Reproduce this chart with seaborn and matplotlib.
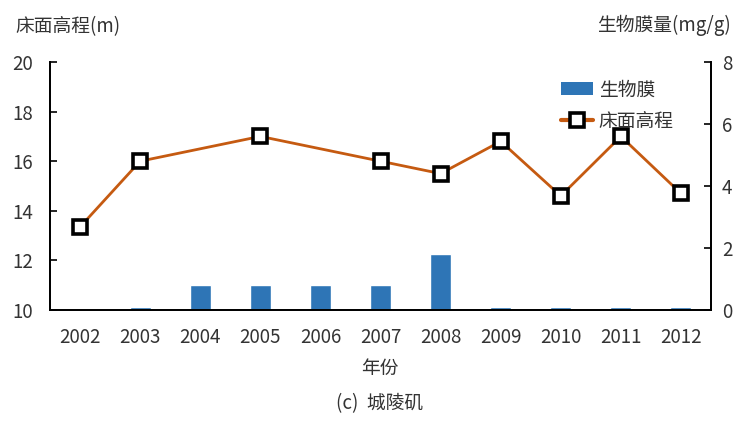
import numpy as np
import pandas as pd
import matplotlib
matplotlib.use("Agg")
import matplotlib.pyplot as plt
import seaborn as sns
from matplotlib.patches import Patch
from matplotlib.lines import Line2D

years = ["2002", "2003", "2004", "2005", "2006", "2007", "2008", "2009", "2010", "2011", "2012"]
biofilm = [0.0, 0.09, 0.82, 0.82, 0.82, 0.82, 1.82, 0.09, 0.09, 0.09, 0.09]
elevation = [13.35, 16.0, np.nan, 17.0, np.nan, 16.0, 15.5, 16.8, 14.6, 17.0, 14.7]

sns.set_style("white")
plt.rcParams['font.family'] = ['Noto Sans CJK SC', 'DejaVu Sans']
FS = 13.5

bar_color = "#2E75B6"
line_color = "#C55A11"

fig = plt.figure(figsize=(7.46, 4.26), dpi=100)
ax = fig.add_axes([50/746, 1-310/426, 661/746, 248/426])
ax2 = ax.twinx()

df_bar = pd.DataFrame({"year": years, "biofilm": biofilm})
sns.barplot(data=df_bar, x="year", y="biofilm", ax=ax2, color=bar_color,
            width=0.35, saturation=1, order=years)

df_line = pd.DataFrame({"pos": np.arange(len(years)), "elev": elevation}).dropna()
sns.lineplot(data=df_line, x="pos", y="elev", ax=ax, color=line_color, linewidth=2,
             marker="s", markersize=10, markerfacecolor="white", markeredgecolor="black",
             markeredgewidth=2.6, zorder=5)

ax.set_zorder(ax2.get_zorder() + 1)
ax.patch.set_visible(False)

ax.set_xlim(-0.5, len(years) - 0.5)
ax2.set_xlim(-0.5, len(years) - 0.5)
ax.set_ylim(10, 20)
ax.set_yticks([10, 12, 14, 16, 18, 20])
ax2.set_ylim(0, 8)
ax2.set_yticks([0, 2, 4, 6, 8])
ax.set_xticks(np.arange(len(years)))
ax.set_xticklabels(years)

for a in (ax, ax2):
    a.set_xlabel("")
    a.set_ylabel("")
    for s in a.spines.values():
        s.set_color("black")
        s.set_linewidth(1.3)
    a.spines["top"].set_visible(False)

ax.tick_params(axis="y", direction="in", length=5, width=1.2, pad=12, labelsize=FS, colors="black", left=True)
ax.tick_params(axis="x", length=0, pad=12, labelsize=FS, colors="black")
ax2.tick_params(axis="y", direction="in", length=5, width=1.2, pad=8, labelsize=FS, colors="black", right=True)
ax2.tick_params(axis="x", length=0, labelbottom=False)
for lab in ax.get_yticklabels() + ax.get_xticklabels() + ax2.get_yticklabels():
    lab.set_color("#333333")

fig.text(15/746, 1-27/426, "床面高程(m)", fontsize=FS, ha="left", va="center", color="#333333")
fig.text(731/746, 1-25/426, "生物膜量(mg/g)", fontsize=FS, ha="right", va="center", color="#333333")
fig.text(380/746, 1-368/426, "年份", fontsize=FS, ha="center", va="center", color="#333333")
fig.text(380/746, 1-404/426, "(c)  城陵矶", fontsize=FS, ha="center", va="center", color="#333333")

handles = [Patch(facecolor=bar_color, edgecolor="none"),
           Line2D([0], [0], color=line_color, linewidth=3, marker="s", markersize=10,
                  markerfacecolor="white", markeredgecolor="black", markeredgewidth=2.6)]
leg = ax.legend(handles, ["生物膜", "床面高程"], loc="upper left",
                bbox_to_anchor=(552/746, 1-70/426), bbox_transform=fig.transFigure,
                frameon=False, fontsize=FS, handlelength=1.7, handletextpad=0.3,
                labelspacing=0.55, borderpad=0)
for t in leg.get_texts():
    t.set_color("#333333")

fig.savefig("out.png", dpi=100)
